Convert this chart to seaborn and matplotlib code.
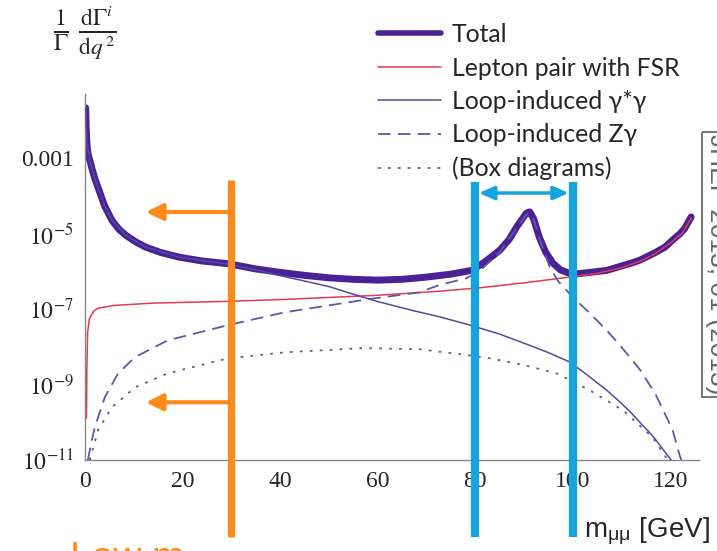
import numpy as np
import pandas as pd
import matplotlib
matplotlib.use("Agg")
import matplotlib.pyplot as plt
import matplotlib.ticker as mticker
import matplotlib.transforms as mtransforms
import seaborn as sns

# ---------------- data ----------------
q_total = [0.15, 0.25, 0.4, 0.6, 0.8, 1.0, 1.5, 2.0, 2.9, 4.0, 5.5, 7, 8.5, 10.5, 12.5,
           15.5, 19.3, 24, 29.5, 35, 40, 45, 50, 55, 60, 65, 70, 75,
           79.3, 82, 85, 87, 88.5, 89.7, 90.5, 91.2, 92, 93.2, 94.5, 95.9, 97.5, 99.4,
           101, 103, 105, 107, 110, 112, 113.8, 117, 119, 120.5, 122, 123, 124.3]
v_total = [2.2e-2, 6.3e-3, 2.5e-3, 1.4e-3, 1.05e-3, 8.9e-4, 5.0e-4, 3.0e-4, 1.4e-4, 5.6e-5,
           2.3e-5, 1.3e-5, 8.9e-6, 6.0e-6, 4.4e-6,
           3.2e-6, 2.4e-6, 1.9e-6, 1.6e-6, 1.17e-6, 9.5e-7, 7.9e-7, 6.8e-7, 6.2e-7, 5.9e-7,
           6.2e-7, 7.1e-7, 8.5e-7,
           1.07e-6, 1.8e-6, 3.6e-6, 7.1e-6, 1.5e-5, 2.5e-5, 3.5e-5, 3.8e-5, 2.5e-5, 7.9e-6,
           3.2e-6, 1.7e-6, 1.1e-6, 8.9e-7,
           8.7e-7, 9.3e-7, 1.0e-6, 1.07e-6, 1.4e-6, 1.66e-6, 2.0e-6, 3.2e-6, 4.5e-6, 6.8e-6,
           1.0e-5, 1.4e-5, 2.8e-5]

q_fsr = [0.3, 0.4, 0.55, 0.9, 1.8, 2.7, 6, 13.8, 29.4, 41, 60, 72.7, 81, 90, 99.4,
         105, 110, 114, 117, 120.5, 122.5, 124.3]
v_fsr = [1.3e-10, 3.2e-9, 2.5e-8, 5.6e-8, 8.9e-8, 1.07e-7, 1.26e-7, 1.45e-7, 1.62e-7,
         1.82e-7, 2.34e-7, 3.0e-7, 3.7e-7, 5.0e-7, 7.1e-7,
         8.9e-7, 1.26e-6, 1.9e-6, 3.0e-6, 6.3e-6, 1.05e-5, 2.6e-5]

q_gg = [0.15, 0.4, 1.0, 2.0, 2.9, 4.0, 5.5, 8.5, 12.5, 19.3, 29.5, 35, 39.8, 45, 50,
        56.9, 60, 67.1, 72.7, 78.9, 85, 90, 95, 99.4, 103, 107, 110, 112, 113.8, 116,
        117, 119, 120.2]
v_gg = [2.2e-2, 2.5e-3, 8.9e-4, 3.0e-4, 1.4e-4, 5.6e-5, 2.3e-5, 8.9e-6, 4.4e-6, 2.4e-6,
        1.55e-6, 1.1e-6, 7.9e-7, 5.6e-7, 4.0e-7,
        2.1e-7, 1.6e-7, 9.3e-8, 6.3e-8, 3.8e-8, 2.2e-8, 1.26e-8, 7.1e-9, 4.0e-9, 1.8e-9,
        7.1e-10, 3.2e-10, 1.8e-10, 1.0e-10, 5.0e-11,
        3.5e-11, 1.6e-11, 1.0e-11]

q_zg = [0.6, 1.2, 2.0, 4.1, 6.8, 10.3, 17, 29.4, 41, 58.3, 68.6, 72.7, 78.2, 81, 85, 88.5,
        90.5, 91.2, 92, 93.2, 95.3, 97, 100, 103.5, 107, 110.3, 113.8, 117, 120.5, 122, 122.3]
v_zg = [1.0e-11, 2.5e-11, 7.4e-11, 4.7e-10, 2.0e-9, 5.4e-9, 1.5e-8, 3.8e-8, 8.3e-8, 1.86e-7,
        2.8e-7, 4.4e-7, 6.6e-7, 1.05e-6, 3.2e-6, 1.4e-5, 3.2e-5, 3.5e-5, 2.4e-5, 7.6e-6,
        1.3e-6, 5.6e-7, 2.1e-7, 7.9e-8, 2.75e-8, 8.9e-9, 2.5e-9, 5.6e-10, 6.3e-11,
        1.26e-11, 1.0e-11]

q_box = [1.0, 2.7, 5.5, 10.3, 17, 29.4, 41, 56.9, 68.6, 77.4, 83, 90, 96.7, 103.5,
         110.3, 116.4, 119.3, 119.5]
v_box = [1.0e-11, 6.3e-11, 2.5e-10, 8.5e-10, 2.0e-9, 5.0e-9, 7.2e-9, 9.3e-9, 8.7e-9,
         6.3e-9, 5.0e-9, 3.3e-9, 2.0e-9, 7.1e-10, 2.1e-10, 4.0e-11, 1.1e-11, 1.0e-11]

labels = ["Total", "Lepton pair with FSR", "Loop-induced γ*γ",
          "Loop-induced Zγ", "(Box diagrams)"]
x_ticks = [0, 20, 40, 60, 80, 100, 120]
y_ticks = [1e-11, 1e-9, 1e-7, 1e-5, 1e-3]
y_ticklabels = [r"$10^{-11}$", r"$10^{-9}$", r"$10^{-7}$", r"$10^{-5}$", "0.001"]

low_cut = 30          # orange cut
z_window = [80, 100]  # blue window

# ---------------- style ----------------
sns.set_style("white")
plt.rcParams["font.family"] = ["Liberation Serif", "DejaVu Serif"]
plt.rcParams["mathtext.fontset"] = "stix"

PURPLE = "#4a2196"
RED = "#e23b52"
THIN = "#5548a0"
DASH = "#5d58a6"
ORANGE = "#ff8a1c"
BLUE = "#17a3dd"

fig = plt.figure(figsize=(7.17, 5.51), dpi=100)
ax = fig.add_axes([0.1185, 0.165, 0.857, 0.664])

sns.lineplot(x=q_total, y=v_total, ax=ax, color=PURPLE, lw=5.0, label=labels[0],
             sort=False, zorder=2, solid_capstyle="round", solid_joinstyle="round")
sns.lineplot(x=q_fsr, y=v_fsr, ax=ax, color=RED, lw=1.1, label=labels[1],
             sort=False, zorder=3)
sns.lineplot(x=q_gg, y=v_gg, ax=ax, color=THIN, lw=1.1, label=labels[2],
             sort=False, zorder=3)
sns.lineplot(x=q_zg, y=v_zg, ax=ax, color=DASH, lw=1.3, label=labels[3],
             sort=False, zorder=3, linestyle=(0, (7, 4)))
sns.lineplot(x=q_box, y=v_box, ax=ax, color=DASH, lw=1.3, label=labels[4],
             sort=False, zorder=3, linestyle=(0, (1.5, 4)))

ax.set_yscale("log")
ax.set_xlim(0, 126)
ax.set_ylim(1e-11, 10 ** -1.3)
ax.set_xticks(x_ticks)
ax.set_xticklabels([str(t) for t in x_ticks])
ax.xaxis.set_minor_locator(mticker.MultipleLocator(5))
ax.yaxis.set_major_locator(mticker.FixedLocator(y_ticks))
ax.yaxis.set_major_formatter(mticker.FixedFormatter(y_ticklabels))
ax.yaxis.set_minor_locator(mticker.LogLocator(base=10, subs=np.arange(1, 10), numticks=200))
ax.yaxis.set_minor_formatter(mticker.NullFormatter())
ax.tick_params(axis="both", which="major", direction="in", length=6, width=0.9,
               color="#888888", labelsize=17, pad=8)
ax.tick_params(axis="both", which="minor", direction="in", length=3, width=0.7,
               color="#888888")
for s in ["top", "right"]:
    ax.spines[s].set_visible(False)
for s in ["left", "bottom"]:
    ax.spines[s].set_color("#888888")
    ax.spines[s].set_linewidth(1.0)
ax.set_xlabel("")
ax.set_ylabel("")

# legend
leg = ax.legend(loc="upper left", bbox_to_anchor=(0.527, 0.958),
                bbox_transform=fig.transFigure, frameon=False, handlelength=2.55,
                handletextpad=0.45, labelspacing=0.42, borderpad=0, borderaxespad=0,
                prop={"family": ["Lato", "DejaVu Sans"], "size": 17.8})
leg.get_lines()[0].set_linewidth(4.0)

# y label (top-left)
fig.text(0.118, 0.94, r"$\frac{1}{\Gamma}\ \frac{\mathrm{d}\Gamma^{i}}{\mathrm{d}q^{\,2}}$",
         fontsize=24, ha="center", va="center")

# orange cut line and arrows
trans = mtransforms.blended_transform_factory(ax.transData, ax.transAxes)
ax.plot([low_cut, low_cut], [0.765, -0.21], transform=trans, color=ORANGE, lw=5.2,
        clip_on=False, zorder=6, solid_capstyle="butt")
for yy in [0.678, 0.158]:
    ax.annotate("", xy=(12.5, yy), xytext=(low_cut, yy), xycoords=trans, textcoords=trans,
                arrowprops=dict(arrowstyle="-|>,head_length=1.0,head_width=0.5",
                                color=ORANGE, lw=3, shrinkA=0, shrinkB=0),
                zorder=6, annotation_clip=False)

# blue window lines and double arrow
for xx in z_window:
    ax.plot([xx, xx], [0.76, -0.21], transform=trans, color=BLUE, lw=6.0,
            clip_on=False, zorder=6, solid_capstyle="butt")
ax.annotate("", xy=(z_window[0] + 0.8, 0.73), xytext=(z_window[1] - 0.8, 0.73),
            xycoords=trans, textcoords=trans,
            arrowprops=dict(arrowstyle="<|-|>,head_length=0.9,head_width=0.4",
                            color=BLUE, lw=2.5, shrinkA=0, shrinkB=0),
            zorder=6, annotation_clip=False)

# axis title at bottom right
fig.text(0.815, 0.025, r"m$_{\mathregular{μμ}}$ [GeV]", fontsize=20,
         family=["Liberation Sans", "DejaVu Sans"], ha="left", va="baseline")

# orange cut-off text at bottom left
fig.text(0.097, -0.032, "Low m", fontsize=28, color=ORANGE,
         family=["Liberation Sans", "DejaVu Sans"], ha="left", va="baseline")

# rotated citation box at right edge (clipped)
fig.text(1.0, 0.52, "JHEP 2013, 01 (2013)", rotation=-90, fontsize=19,
         color="#666666", family=["Liberation Sans", "DejaVu Sans"],
         ha="center", va="center",
         bbox=dict(boxstyle="square,pad=0.1", fc="none", ec="#777777", lw=1.5))

fig.savefig("out.png", dpi=100)
